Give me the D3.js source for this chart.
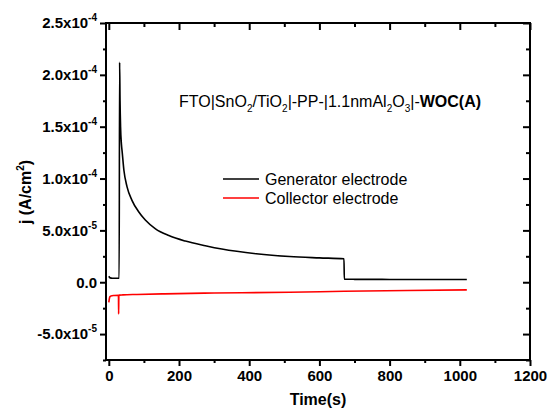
<!DOCTYPE html>
<html>
<head>
<meta charset="utf-8">
<script src="https://cdn.jsdelivr.net/npm/d3@7"></script>
<style>
  body { margin: 0; background: #fff; }
  svg { font-family: Arial, "Liberation Sans", sans-serif; }
</style>
</head>
<body>
<svg width="552" height="413"></svg>
<script>
// generator electrode (time in s, j in A/cm2)
const genTime = [0, 4, 10, 20, 29.5, 30.8, 32, 33.5, 36, 38, 43, 52, 66, 85, 104, 133, 171, 218, 275, 322, 420, 515, 600, 670, 671, 700, 800, 900, 1020]
const genJ = [5.8e-6, 4.2e-6, 3.9e-6, 3.9e-6, 3.9e-6, 2.12e-4, 1.75e-4, 1.5e-4, 1.33e-4, 1.26e-4, 1.08e-4, 9.2e-5, 7.9e-5, 6.8e-5, 6.0e-5, 5.15e-5, 4.5e-5, 3.97e-5, 3.52e-5, 3.2e-5, 2.75e-5, 2.48e-5, 2.35e-5, 2.26e-5, 2.9e-6, 2.8e-6, 2.7e-6, 2.6e-6, 2.6e-6]

// collector electrode
const colTime = [0, 3, 6, 15, 27.5, 28, 28.6, 30, 40, 80, 159, 300, 515, 670, 850, 1020]
const colJ = [-1.94e-5, -1.4e-5, -1.32e-5, -1.28e-5, -1.26e-5, -3.06e-5, -1.3e-5, -1.24e-5, -1.22e-5, -1.18e-5, -1.12e-5, -1.04e-5, -9.7e-6, -8.7e-6, -8.0e-6, -7.4e-6]

const xMajor = [0, 200, 400, 600, 800, 1000, 1200]
const xMinor = [100, 300, 500, 700, 900, 1100]
const yMajor = [-5e-5, 0, 5e-5, 1e-4, 1.5e-4, 2e-4, 2.5e-4]
const yMinor = [-7.5e-5, -2.5e-5, 2.5e-5, 7.5e-5, 1.25e-4, 1.75e-4, 2.25e-4]

const seriesNames = ["Generator electrode", "Collector electrode"]
const seriesColors = ["#000000", "#ff0000"]

const margin = { left: 106, right: 22, top: 23, bottom: 53 }
const width = 552, height = 413
const svg = d3.select("svg")

const x = d3.scaleLinear().domain([-8, 1200]).range([margin.left, width - margin.right])
const y = d3.scaleLinear().domain([-7.5e-5, 2.5e-4]).range([height - margin.bottom, margin.top])

function supLabel(sel) {
  sel.each(function (d) {
    const t = d3.select(this)
    t.text(null)
    if (d === 0) { t.text("0.0"); return }
    const [m, e] = d.toExponential(1).split("e")
    t.append("tspan").text(m + "x10")
    t.append("tspan").attr("dy", -7).attr("font-size", 10).text(String(+e))
  })
}

const bottomY = height - margin.bottom
const leftX = margin.left
const rightX = width - margin.right

// bottom axis
const gb = svg.append("g").attr("transform", `translate(0,${bottomY})`)
  .call(d3.axisBottom(x).tickValues(xMajor).tickSize(6).tickPadding(4).tickFormat(d3.format("d")))
gb.append("g").call(d3.axisBottom(x).tickValues(xMinor).tickSize(3).tickFormat(""))
// top axis (inward)
const gt = svg.append("g").attr("transform", `translate(0,${margin.top})`)
  .call(d3.axisBottom(x).tickValues(xMajor).tickSize(7).tickFormat(""))
gt.append("g").call(d3.axisBottom(x).tickValues(xMinor).tickSize(4).tickFormat(""))
// left axis
const gl = svg.append("g").attr("transform", `translate(${leftX},0)`)
  .call(d3.axisLeft(y).tickValues(yMajor).tickSize(6).tickPadding(3))
gl.selectAll(".tick text").call(supLabel)
gl.append("g").call(d3.axisLeft(y).tickValues(yMinor).tickSize(3).tickFormat(""))
// right axis (inward)
const gr = svg.append("g").attr("transform", `translate(${rightX},0)`)
  .call(d3.axisLeft(y).tickValues(yMajor).tickSize(7).tickFormat(""))
gr.append("g").call(d3.axisLeft(y).tickValues(yMinor).tickSize(4).tickFormat(""))

svg.selectAll(".domain").remove()
svg.selectAll(".tick line").attr("stroke", "#000").attr("stroke-width", 2)
svg.selectAll(".tick text").attr("fill", "#000").attr("font-size", 15).attr("font-weight", "bold")
  .attr("font-family", "Arial, 'Liberation Sans', sans-serif")

// data lines
const line = d3.line().x(d => x(d[0])).y(d => y(d[1])).curve(d3.curveMonotoneX)
const genData = genTime.map((t, i) => [t, genJ[i]])
const colData = colTime.map((t, i) => [t, colJ[i]])
svg.append("path").datum(genData).attr("d", line)
  .attr("fill", "none").attr("stroke", seriesColors[0]).attr("stroke-width", 1.6)
svg.append("path").datum(colData).attr("d", line)
  .attr("fill", "none").attr("stroke", seriesColors[1]).attr("stroke-width", 1.6)

// frame
svg.append("rect").attr("x", leftX).attr("y", margin.top)
  .attr("width", rightX - leftX).attr("height", bottomY - margin.top)
  .attr("fill", "none").attr("stroke", "#000").attr("stroke-width", 2)

// axis titles
svg.append("text").attr("x", (leftX + rightX) / 2).attr("y", 405)
  .attr("text-anchor", "middle").attr("font-size", 16).attr("font-weight", "bold").text("Time(s)")
const yt = svg.append("text").attr("transform", "translate(31,192) rotate(-90)")
  .attr("text-anchor", "middle").attr("font-size", 16).attr("font-weight", "bold")
yt.append("tspan").text("j (A/cm")
yt.append("tspan").attr("dy", -7).attr("font-size", 10).text("2")
yt.append("tspan").attr("dy", 7).text(")")

// legend
const lg = svg.append("g")
seriesNames.forEach((name, i) => {
  const ly = 179 + i * 19
  lg.append("line").attr("x1", 223).attr("x2", 259).attr("y1", ly).attr("y2", ly)
    .attr("stroke", seriesColors[i]).attr("stroke-width", 1.6)
  lg.append("text").attr("x", 265).attr("y", ly + 5.5).attr("font-size", 16).text(name)
})

// annotation
const parts = [["FTO|SnO", 0], ["2", 1], ["/TiO", 0], ["2", 1], ["|-PP-|1.1nmAl", 0], ["2", 1], ["O", 0], ["3", 1], ["|-", 0], ["WOC(A)", 2]]
const ann = svg.append("text").attr("x", 179).attr("y", 106.5).attr("font-size", 16)
let sub = false
parts.forEach(([s, k]) => {
  const ts = ann.append("tspan").text(s)
  if (k === 1) { ts.attr("font-size", 10).attr("dy", sub ? 0 : 5); sub = true }
  else { if (sub) ts.attr("dy", -5); sub = false }
  if (k === 2) ts.attr("font-weight", "bold")
})
</script>
</body>
</html>
